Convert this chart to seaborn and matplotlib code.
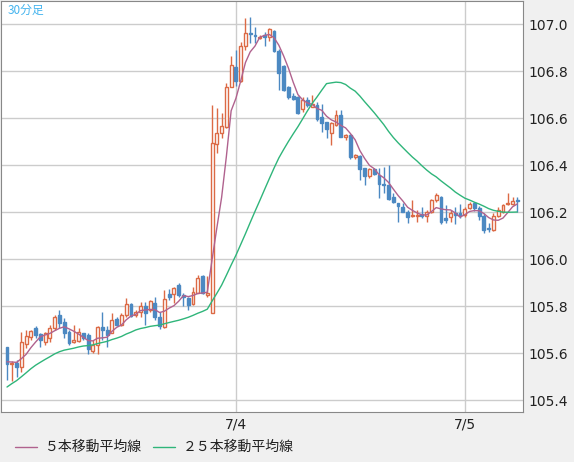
import numpy as np
import pandas as pd
import seaborn as sns
from matplotlib import pyplot as plt
from matplotlib.lines import Line2D

# 30-minute candles (USD/JPY)
opens = [105.624, 105.553, 105.556, 105.542, 105.640, 105.667, 105.705, 105.679, 105.645, 105.662,
         105.705, 105.762, 105.733, 105.691, 105.648, 105.652, 105.685, 105.677, 105.610, 105.632,
         105.709, 105.700, 105.686, 105.743, 105.719, 105.762, 105.809, 105.762, 105.776, 105.800,
         105.783, 105.811, 105.752, 105.712, 105.851, 105.851, 105.889, 105.847, 105.833, 105.809,
         105.857, 105.928, 105.847, 105.772, 106.489, 106.535, 106.560, 106.730, 106.818, 106.759,
         106.906, 106.963, 106.955, 106.939, 106.952, 106.946, 106.972, 106.887, 106.820, 106.733,
         106.694, 106.690, 106.637, 106.677, 106.648, 106.655, 106.603, 106.584, 106.538, 106.570,
         106.613, 106.518, 106.528, 106.435, 106.438, 106.386, 106.353, 106.382, 106.357, 106.318,
         106.315, 106.262, 106.237, 106.223, 106.200, 106.183, 106.183, 106.190, 106.183, 106.201,
         106.251, 106.265, 106.173, 106.177, 106.197, 106.194, 106.187, 106.216, 106.240, 106.216,
         106.183, 106.130, 106.123, 106.183, 106.201, 106.234, 106.234, 106.251]
closes = [105.553, 105.556, 105.542, 105.648, 105.672, 105.695, 105.677, 105.655, 105.685, 105.705,
          105.752, 105.729, 105.687, 105.641, 105.655, 105.691, 105.662, 105.616, 105.634, 105.712,
          105.698, 105.677, 105.740, 105.719, 105.762, 105.809, 105.757, 105.776, 105.800, 105.772,
          105.823, 105.752, 105.715, 105.828, 105.837, 105.875, 105.847, 105.837, 105.804, 105.861,
          105.918, 105.857, 105.854, 106.495, 106.538, 106.566, 106.730, 106.826, 106.759, 106.906,
          106.960, 106.957, 106.949, 106.946, 106.946, 106.980, 106.887, 106.790, 106.720, 106.690,
          106.679, 106.620, 106.677, 106.655, 106.658, 106.594, 106.580, 106.552, 106.577, 106.613,
          106.520, 106.528, 106.433, 106.443, 106.382, 106.353, 106.382, 106.362, 106.319, 106.313,
          106.254, 106.241, 106.226, 106.201, 106.180, 106.187, 106.187, 106.183, 106.201, 106.251,
          106.272, 106.159, 106.166, 106.197, 106.187, 106.183, 106.211, 106.234, 106.216, 106.183,
          106.123, 106.126, 106.183, 106.209, 106.230, 106.240, 106.248, 106.245]
highs = [105.627, 105.564, 105.571, 105.691, 105.698, 105.698, 105.715, 105.684, 105.691, 105.720,
         105.762, 105.781, 105.748, 105.698, 105.720, 105.705, 105.687, 105.684, 105.656, 105.715,
         105.776, 105.713, 105.769, 105.755, 105.769, 105.833, 105.812, 105.781, 105.819, 105.819,
         105.826, 105.840, 105.776, 105.868, 105.871, 105.883, 105.897, 105.854, 105.840, 105.883,
         105.932, 105.932, 105.928, 106.655, 106.641, 106.620, 106.748, 106.864, 106.889, 106.925,
         107.024, 107.028, 106.989, 106.953, 106.967, 106.982, 106.975, 106.892, 106.826, 106.736,
         106.705, 106.694, 106.688, 106.691, 106.698, 106.670, 106.660, 106.585, 106.585, 106.634,
         106.634, 106.532, 106.532, 106.447, 106.443, 106.386, 106.386, 106.386, 106.386, 106.393,
         106.400, 106.280, 106.240, 106.237, 106.209, 106.251, 106.209, 106.220, 106.209, 106.254,
         106.280, 106.268, 106.230, 106.209, 106.223, 106.234, 106.223, 106.244, 106.244, 106.226,
         106.195, 106.152, 106.195, 106.223, 106.234, 106.282, 106.266, 106.266]
lows = [105.486, 105.479, 105.500, 105.521, 105.620, 105.656, 105.663, 105.625, 105.634, 105.649,
        105.698, 105.705, 105.663, 105.634, 105.642, 105.649, 105.656, 105.596, 105.599, 105.596,
        105.656, 105.625, 105.684, 105.713, 105.713, 105.755, 105.755, 105.755, 105.755, 105.720,
        105.776, 105.741, 105.701, 105.708, 105.826, 105.812, 105.840, 105.800, 105.783, 105.805,
        105.854, 105.851, 105.840, 105.769, 106.450, 106.514, 106.556, 106.731, 106.736, 106.755,
        106.889, 106.918, 106.918, 106.935, 106.907, 106.929, 106.882, 106.719, 106.716, 106.680,
        106.677, 106.617, 106.627, 106.648, 106.646, 106.589, 106.542, 106.514, 106.485, 106.566,
        106.518, 106.507, 106.424, 106.424, 106.336, 106.315, 106.344, 106.358, 106.258, 106.280,
        106.251, 106.237, 106.159, 106.200, 106.155, 106.180, 106.159, 106.173, 106.159, 106.195,
        106.244, 106.149, 106.155, 106.159, 106.149, 106.173, 106.180, 106.212, 106.206, 106.166,
        106.109, 106.117, 106.121, 106.180, 106.195, 106.230, 106.230, 106.200]
# closes before the first shown candle (needed for the 25-bar average)
prior_closes = [105.20, 105.22, 105.24, 105.25, 105.26, 105.30, 105.34, 105.38, 105.42, 105.45,
                105.50, 105.52, 105.54, 105.55, 105.56, 105.56, 105.57, 105.56, 105.57, 105.58,
                105.56, 105.55, 105.57, 105.58]
date_ticks = [48, 96]
date_labels = ["7/4", "7/5"]
y_ticks = [105.4, 105.6, 105.8, 106.0, 106.2, 106.4, 106.6, 106.8, 107.0]

UP = "#dc6a45"
DOWN = "#4c89c2"
MA5_C = "#b0628e"
MA25_C = "#2fb57a"
JP = ["Noto Sans CJK JP", "DejaVu Sans"]

df = pd.DataFrame({"o": opens, "h": highs, "l": lows, "c": closes})
df["i"] = np.arange(len(df))
full = pd.Series(prior_closes + closes)
df["ma5"] = full.rolling(5).mean().iloc[len(prior_closes):].to_numpy()
df["ma25"] = full.rolling(25).mean().iloc[len(prior_closes):].to_numpy()

sns.set_style("white")
fig = plt.figure(figsize=(5.74, 4.62), dpi=100, facecolor="#f0f0f0")
ax = fig.add_axes([1 / 574, 50 / 462, 522 / 574, 411 / 462])
ax.set_facecolor("white")

for y in y_ticks:
    ax.axhline(y, color="#cccccc", lw=1, zorder=0)
for x in date_ticks:
    ax.axvline(x, color="#cccccc", lw=1, zorder=0)

w = 0.6
for r in df.itertuples():
    up = r.c >= r.o
    col = UP if up else DOWN
    lo_b, hi_b = min(r.o, r.c), max(r.o, r.c)
    ax.vlines(r.i, r.l, lo_b, color=col, lw=1, zorder=2)
    ax.vlines(r.i, hi_b, r.h, color=col, lw=1, zorder=2)
    ax.add_patch(plt.Rectangle((r.i - w / 2, lo_b), w, max(hi_b - lo_b, 0.003),
                               facecolor="white" if up else col, edgecolor=col, lw=1, zorder=3))

sns.lineplot(data=df, x="i", y="ma5", ax=ax, color=MA5_C, lw=1, zorder=4)
sns.lineplot(data=df, x="i", y="ma25", ax=ax, color=MA25_C, lw=1, zorder=4)

ax.set_xlim(-1.26, 108.2)
ax.set_ylim(105.349, 107.098)
ax.yaxis.tick_right()
ax.set_yticks(y_ticks)
ax.set_yticklabels([f"{v:.1f}" for v in y_ticks], fontsize=10, color="#222222")
ax.set_xticks(date_ticks)
ax.set_xticklabels(date_labels, fontsize=10, color="#222222")
ax.tick_params(length=0, pad=4)
ax.set_xlabel("")
ax.set_ylabel("")
for s in ax.spines.values():
    s.set_color("#888888")

ax.text(0.012, 0.993, "30分足", transform=ax.transAxes, ha="left", va="top",
        fontsize=8.5, color="#45b4ee", family=JP)

fig.add_artist(Line2D([15 / 574, 37 / 574], [15 / 462, 15 / 462], color=MA5_C, lw=1))
fig.text(45 / 574, 15 / 462, "５本移動平均線", fontsize=10, va="center", family=JP, color="#222222")
fig.add_artist(Line2D([153 / 574, 175 / 574], [15 / 462, 15 / 462], color=MA25_C, lw=1))
fig.text(183 / 574, 15 / 462, "２５本移動平均線", fontsize=10, va="center", family=JP, color="#222222")

fig.savefig("out.png", dpi=100, facecolor=fig.get_facecolor())
